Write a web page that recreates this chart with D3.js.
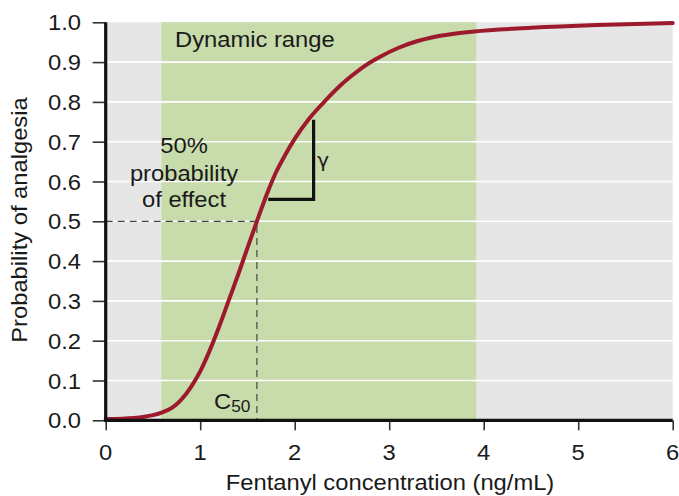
<!DOCTYPE html>
<html><head><meta charset="utf-8">
<script src="https://cdn.jsdelivr.net/npm/d3@7"></script>
<style>body{margin:0;background:#fff}svg{display:block}text{font-family:"Liberation Sans",Arial,sans-serif;fill:#1a1a1a}</style>
</head><body>
<svg id="c" width="679" height="496"></svg>
<script>
// Data
const concentration = [0, 0.3, 0.5, 0.6, 0.7, 0.8, 0.9, 1.0, 1.1, 1.2, 1.3, 1.4, 1.5, 1.6, 1.7, 1.8, 1.9, 2.0, 2.15, 2.3, 2.4, 2.5, 2.6, 2.75, 2.9, 3.1, 3.3, 3.45, 3.9, 4.5, 5.2, 6.0];
const probability   = [0.003, 0.006, 0.013, 0.02, 0.031, 0.052, 0.083, 0.123, 0.175, 0.235, 0.30, 0.365, 0.433, 0.50, 0.565, 0.622, 0.667, 0.707, 0.757, 0.797, 0.822, 0.845, 0.865, 0.892, 0.913, 0.936, 0.953, 0.962, 0.977, 0.986, 0.993, 0.998];
const dynamicRange = [0.59, 3.92];
const c50 = 1.6;
const gammaX = [1.72, 2.2];
const gammaY = [0.555, 0.755];
const xTicks = [0, 1, 2, 3, 4, 5, 6];
const yTicks = [0, 0.1, 0.2, 0.3, 0.4, 0.5, 0.6, 0.7, 0.8, 0.9, 1.0];

const svg = d3.select("#c");
const x = d3.scaleLinear().domain([0, 6]).range([105.7, 672.7]);
const y = d3.scaleLinear().domain([0, 1]).range([420.3, 22.3]);
const SX = 1.08, FS = 22;

function label(px, py, str, anchor, size, rot) {
  const g = svg.append("g").attr("transform", `translate(${px},${py})` + (rot ? ` rotate(${rot})` : "") + ` scale(${SX},1)`);
  return g.append("text").attr("text-anchor", anchor || "start").attr("font-size", size || FS).text(str);
}

// backgrounds
svg.append("rect").attr("x", x(0)).attr("y", y(1)).attr("width", x(6) - x(0)).attr("height", y(0) - y(1)).attr("fill", "#e6e6e6");
svg.append("rect").attr("x", x(dynamicRange[0])).attr("y", y(1)).attr("width", x(dynamicRange[1]) - x(dynamicRange[0])).attr("height", y(0) - y(1)).attr("fill", "#c8dbaa");

// grid
svg.append("g").selectAll("line").data(yTicks.filter(d => d > 0 && d < 1)).join("line")
  .attr("x1", x(0)).attr("x2", x(6)).attr("y1", d => y(d)).attr("y2", d => y(d))
  .attr("stroke", "#fff").attr("stroke-width", 1.6);

// dashed C50 lines
svg.append("path").attr("d", `M${x(0)},${y(0.5)}H${x(c50)}V${y(0)}`)
  .attr("fill", "none").attr("stroke", "#444").attr("stroke-width", 1.2).attr("stroke-dasharray", "7,5");

// gamma bracket
svg.append("path").attr("d", `M${x(gammaX[0])},${y(gammaY[0])}H${x(gammaX[1])}V${y(gammaY[1])}`)
  .attr("fill", "none").attr("stroke", "#111").attr("stroke-width", 3.2);

// curve
const pts = concentration.map((c, i) => [c, probability[i]]);
svg.append("path").datum(pts)
  .attr("d", d3.line().x(d => x(d[0])).y(d => y(d[1])).curve(d3.curveMonotoneX))
  .attr("fill", "none").attr("stroke", "#9c1a2c").attr("stroke-width", 4).attr("stroke-linecap", "round");

// axes
const xAxis = svg.append("g").attr("transform", `translate(0,${y(0)})`)
  .call(d3.axisBottom(x).tickValues(xTicks).tickFormat(d3.format("d")).tickSize(10).tickPadding(0));
xAxis.select(".domain").remove();
xAxis.selectAll(".tick line").attr("stroke", "#333").attr("stroke-width", 1.6);
xAxis.selectAll(".tick text").remove();
xTicks.forEach(t => label(x(t), 460, String(t), "middle"));

const yAxis = svg.append("g").attr("transform", `translate(${x(0)},0)`)
  .call(d3.axisLeft(y).tickValues(yTicks).tickSize(13));
yAxis.select(".domain").remove();
yAxis.selectAll(".tick line").attr("stroke", "#333").attr("stroke-width", 1.6);
yAxis.selectAll(".tick text").remove();
yTicks.forEach(t => label(81, y(t) + 8, d3.format(".1f")(t), "end"));

svg.append("line").attr("x1", x(0) - 1.5).attr("x2", x(6)).attr("y1", y(0)).attr("y2", y(0)).attr("stroke", "#111").attr("stroke-width", 3.2);
svg.append("line").attr("x1", x(0)).attr("x2", x(0)).attr("y1", y(1)).attr("y2", y(0) + 1.5).attr("stroke", "#111").attr("stroke-width", 3.2);

// axis titles
label(390, 490, "Fentanyl concentration (ng/mL)", "middle");
label(27, 220, "Probability of analgesia", "middle", FS, -90);

// annotations
label(175, 47, "Dynamic range", "start");
label(184, 153, "50%", "middle");
label(184, 181, "probability", "middle");
label(184, 207, "of effect", "middle");
label(317, 167, "γ", "start").style("font-family", "'DejaVu Sans',sans-serif").attr("font-size", 19);
const ct = label(214, 409, "C", "start");
ct.append("tspan").attr("font-size", 16).attr("dy", 3).text("50");
</script>
</body></html>
